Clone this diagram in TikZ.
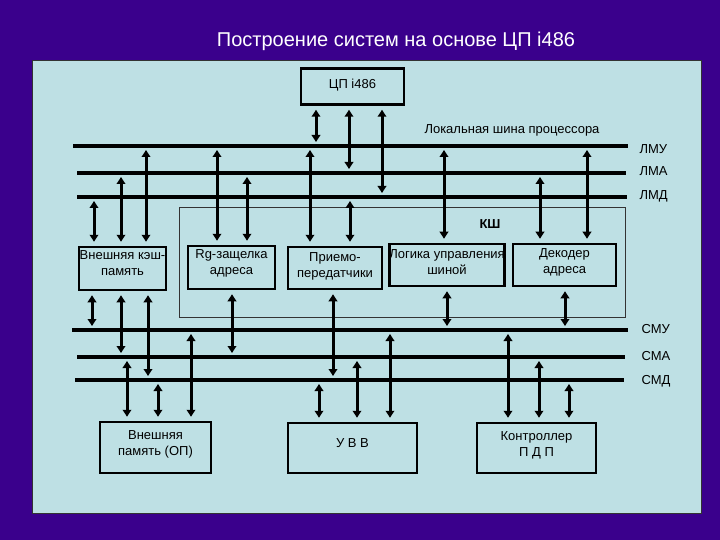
\documentclass[tikz,border=0pt]{standalone}
\usepackage{fontspec}
\setmainfont{Liberation Sans}
\usetikzlibrary{arrows.meta}
\definecolor{slidebg}{RGB}{58,0,140}
\definecolor{panelbg}{RGB}{190,224,228}

\begin{document}
\begin{tikzpicture}[x=1pt,y=-1pt,>={Triangle[length=7pt,width=8.5pt]},
    box/.style={draw,line width=2.5pt,align=center,inner sep=0pt,
      font=\fontsize{13}{16}\selectfont},
    bus/.style={line width=4pt},
    link/.style={<->,line width=3pt,shorten <=4pt,shorten >=4pt},
    lbl/.style={font=\fontsize{13}{16}\selectfont}]
  \fill[slidebg] (0,0) rectangle (720,540);
  \useasboundingbox (0,0) rectangle (720,540);
  \draw[fill=panelbg,draw=black!80,line width=1pt] (32,61) rectangle (701,513);
  \node[text=white,font=\fontsize{20}{24}\selectfont] (title) at (396,41) {Построение систем на основе ЦП i486};

  % local bus
  \coordinate (lmu) at (73,146);
  \coordinate (lmuE) at (628,146);
  \coordinate (lma) at (77,173);
  \coordinate (lmaE) at (626,173);
  \coordinate (lmd) at (77,197);
  \coordinate (lmdE) at (627,197);
  \draw[bus] (lmu) -- (lmuE);
  \draw[bus] (lma) -- (lmaE);
  \draw[bus] (lmd) -- (lmdE);
  \node[lbl,anchor=west] (lmuT) at (636,149) {ЛМУ};
  \node[lbl,anchor=west] (lmaT) at (636,171) {ЛМА};
  \node[lbl,anchor=west] (lmdT) at (636,196) {ЛМД};
  \node[lbl] (lbus) at (512,130) {Локальная шина процессора};

  % system bus
  \coordinate (smu) at (72,330);
  \coordinate (smuE) at (628,330);
  \coordinate (sma) at (77,357);
  \coordinate (smaE) at (625,357);
  \coordinate (smd) at (75,380);
  \coordinate (smdE) at (624,380);
  \draw[bus] (smu) -- (smuE);
  \draw[bus] (sma) -- (smaE);
  \draw[bus] (smd) -- (smdE);
  \node[lbl,anchor=west] (smuT) at (638,329) {СМУ};
  \node[lbl,anchor=west] (smaT) at (638,356) {СМА};
  \node[lbl,anchor=west] (smdT) at (638,381) {СМД};

  % bus controller
  \node[draw=black!80,line width=0.8pt,minimum width=446pt,minimum height=110pt] (ksh) at (402.5,262.5) {};
  \node[lbl,font=\fontsize{13}{16}\selectfont\bfseries] (kshT) at (490,224) {КШ};

  \node[box,minimum width=103pt,minimum height=36pt] (cpu) at (352.5,86.5) {ЦП i486\\[-11pt]\mbox{}};
  \node[box,minimum width=87pt,minimum height=43pt] (cache) at (122.5,268.5) {Внешняя кэш-\\память\\[-5pt]\mbox{}};
  \node[box,minimum width=87pt,minimum height=43pt] (rg) at (231.5,267.5) {Rg-защелка\\адреса\\[-5pt]\mbox{}};
  \node[box,minimum width=94pt,minimum height=42pt] (pr) at (335,268) {Приемо-\\передатчики\\[-10pt]\mbox{}};
  \node[box,minimum width=114pt,minimum height=42pt] (log) at (447,265) {Логика управления\\шиной\\[-10pt]\mbox{}};
  \node[box,minimum width=103pt,minimum height=42pt] (dec) at (564.5,265) {Декодер\\адреса\\[-8pt]\mbox{}};
  \node[box,minimum width=111pt,minimum height=51pt] (op) at (155.5,447.5) {Внешняя\\память (ОП)\\[-7pt]\mbox{}};
  \node[box,minimum width=129pt,minimum height=50pt] (uvv) at (352.5,448) {У В В\\[-7pt]\mbox{}};
  \node[box,minimum width=119pt,minimum height=50pt] (pdp) at (536.5,448) {Контроллер\\П Д П\\[-9pt]\mbox{}};

  % processor
  \draw[link] (316,0 |- cpu.south) -- (316,0 |- lmu);
  \draw[link] (349,0 |- cpu.south) -- (349,0 |- lma);
  \draw[link] (382,0 |- cpu.south) -- (382,0 |- lmd);
  % local bus to the boxes
  \draw[link] (94,0 |- lmd) -- (94,0 |- cache.north);
  \draw[link] (121,0 |- lma) -- (121,0 |- cache.north);
  \draw[link] (146,0 |- lmu) -- (146,0 |- cache.north);
  \draw[link] (217,0 |- lmu) -- (217,0 |- rg.north);
  \draw[link] (247,0 |- lma) -- (247,0 |- rg.north);
  \draw[link] (310,0 |- lmu) -- (310,0 |- pr.north);
  \draw[link] (350,0 |- lmd) -- (350,0 |- pr.north);
  \draw[link] (444,0 |- lmu) -- (444,0 |- log.north);
  \draw[link] (540,0 |- lma) -- (540,0 |- dec.north);
  \draw[link] (587,0 |- lmu) -- (587,0 |- dec.north);
  % boxes to system bus
  \draw[link] (92,0 |- cache.south) -- (92,0 |- smu);
  \draw[link] (121,0 |- cache.south) -- (121,0 |- sma);
  \draw[link] (148,0 |- cache.south) -- (148,0 |- smd);
  \draw[link] (232,0 |- rg.south) -- (232,0 |- sma);
  \draw[link] (333,0 |- pr.south) -- (333,0 |- smd);
  \draw[link] (447,0 |- log.south) -- (447,0 |- smu);
  \draw[link] (565,0 |- dec.south) -- (565,0 |- smu);
  % system bus to devices
  \draw[link] (127,0 |- sma) -- (127,0 |- op.north);
  \draw[link] (158,0 |- smd) -- (158,0 |- op.north);
  \draw[link] (191,0 |- smu) -- (191,0 |- op.north);
  \draw[link] (319,0 |- smd) -- (319,0 |- uvv.north);
  \draw[link] (357,0 |- sma) -- (357,0 |- uvv.north);
  \draw[link] (390,0 |- smu) -- (390,0 |- uvv.north);
  \draw[link] (508,0 |- smu) -- (508,0 |- pdp.north);
  \draw[link] (539,0 |- sma) -- (539,0 |- pdp.north);
  \draw[link] (569,0 |- smd) -- (569,0 |- pdp.north);
\end{tikzpicture}
\end{document}
